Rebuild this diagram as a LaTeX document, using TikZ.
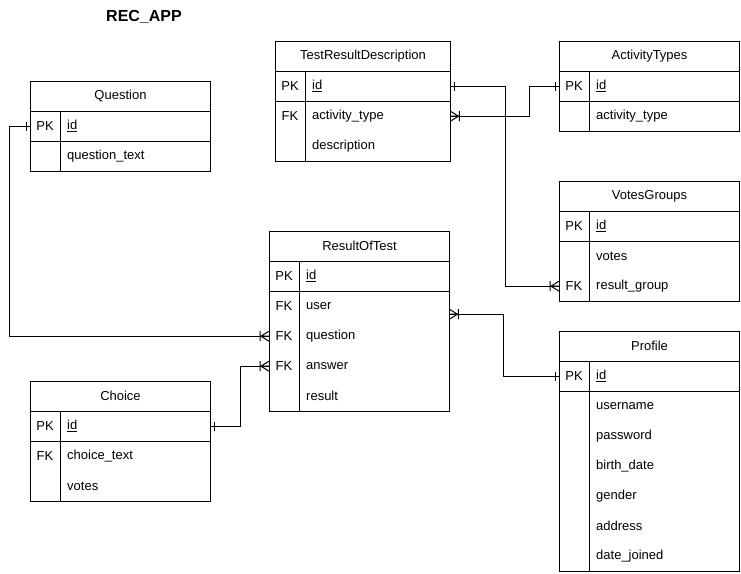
\documentclass[tikz,border=0pt]{standalone}
\usepackage{fontspec}
\setmainfont{Liberation Sans}
\usetikzlibrary{calc}
\newcommand\fs{\fontsize{13}{15}\selectfont}
\tikzset{
  ln/.style={line width=1pt},
  tbl/.style={draw, line width=1pt, inner sep=0pt, anchor=north west},
  rowbox/.style={inner sep=0pt, minimum height=30pt, anchor=north west},
  hdrt/.style={inner sep=0pt, font=\fs},
  keyt/.style={inner sep=0pt, font=\fs},
  fldt/.style={inner sep=0pt, font=\fs, anchor=west},
  conn/.style={line width=1pt, sharp corners},
  crowfoot/.pic={\draw[line width=1pt] (0,-5) -- (8,0) -- (0,5) (0,0) -- (8,0) (9,-5) -- (9,5);},
  onebar/.pic={\draw[line width=1pt] (4,-4.5) -- (4,4.5);}
}
% #1 name, #2 x, #3 y, #4 width, #5 number of field rows, #6 title
\newcommand\ertable[6]{%
  \node[tbl, minimum width=#4pt, minimum height={30pt*(#5+1)}] (#1) at (#2,#3) {};
  \node[hdrt] (#1-title) at ($(#1.north)+(0,15)$) {#6};
  \draw[ln] ($(#1.north west)+(0,30)$) -- ($(#1.north east)+(0,30)$);
  \draw[ln] ($(#1.north west)+(0,60)$) -- ($(#1.north east)+(0,60)$);
  \draw[ln] ($(#1.north west)+(30,30)$) -- ($(#1.south west)+(30,0)$);
}
% #1 table, #2 width, #3 index, #4 key, #5 field, #6 row name
\newcommand\erow[6]{%
  \node[rowbox, minimum width=#2pt] (#6) at ($(#1.north west)+(0,{30*#3})$) {};
  \node[keyt] at ($(#6.west)+(15,0)$) {#4};
  \node[fldt] at ($(#6.west)+(37,0)$) {#5};
}
\begin{document}
\begin{tikzpicture}[x=1pt, y=-1pt]
\useasboundingbox (0,0) rectangle (741,573);

\node[font=\fontsize{16}{19}\selectfont\bfseries, inner sep=0pt] (title) at (144,17) {REC\_APP};

% Question
\ertable{Q}{30}{81}{180}{2}{Question}
\erow{Q}{180}{1}{PK}{\underline{id}}{Q-id}
\erow{Q}{180}{2}{}{question\_text}{Q-text}

% TestResultDescription
\ertable{T}{275}{41}{175}{3}{TestResultDescription}
\erow{T}{175}{1}{PK}{\underline{id}}{T-id}
\erow{T}{175}{2}{FK}{activity\_type}{T-at}
\erow{T}{175}{3}{}{description}{T-desc}

% ActivityTypes
\ertable{A}{559}{41}{180}{2}{ActivityTypes}
\erow{A}{180}{1}{PK}{\underline{id}}{A-id}
\erow{A}{180}{2}{}{activity\_type}{A-at}

% VotesGroups
\ertable{V}{559}{181}{180}{3}{VotesGroups}
\erow{V}{180}{1}{PK}{\underline{id}}{V-id}
\erow{V}{180}{2}{}{votes}{V-votes}
\erow{V}{180}{3}{FK}{result\_group}{V-rg}

% ResultOfTest
\ertable{R}{269}{231}{180}{5}{ResultOfTest}
\erow{R}{180}{1}{PK}{\underline{id}}{R-id}
\erow{R}{180}{2}{FK}{user}{R-user}
\erow{R}{180}{3}{FK}{question}{R-question}
\erow{R}{180}{4}{FK}{answer}{R-answer}
\erow{R}{180}{5}{}{result}{R-result}

% Choice
\ertable{C}{30}{381}{180}{3}{Choice}
\erow{C}{180}{1}{PK}{\underline{id}}{C-id}
\erow{C}{180}{2}{FK}{choice\_text}{C-text}
\erow{C}{180}{3}{}{votes}{C-votes}

% Profile
\ertable{P}{559}{331}{180}{7}{Profile}
\erow{P}{180}{1}{PK}{\underline{id}}{P-id}
\erow{P}{180}{2}{}{username}{P-user}
\erow{P}{180}{3}{}{password}{P-pw}
\erow{P}{180}{4}{}{birth\_date}{P-bd}
\erow{P}{180}{5}{}{gender}{P-gender}
\erow{P}{180}{6}{}{address}{P-addr}
\erow{P}{180}{7}{}{date\_joined}{P-dj}

% connectors
\coordinate (R-user-pt) at ($(R-user.east)+(0,8)$);
\draw[conn] (Q-id.west) -- ++(-21,0) |- (R-question.west);
\draw[conn] (C-id.east) -- ++(30,0) |- (R-answer.west);
\draw[conn] (R-user-pt) -- ++(54,0) |- (P-id.west);
\draw[conn] (T-id.east) -- ++(55,0) |- (V-rg.west);
\draw[conn] (T-at.east) -- ++(79,0) |- (A-id.west);

% markers
\pic[rotate=180] at (Q-id.west) {onebar};
\pic[rotate=180] at (R-question.west) {crowfoot};
\pic at (C-id.east) {onebar};
\pic[rotate=180] at (R-answer.west) {crowfoot};
\pic at (R-user-pt) {crowfoot};
\pic[rotate=180] at (P-id.west) {onebar};
\pic at (T-id.east) {onebar};
\pic[rotate=180] at (V-rg.west) {crowfoot};
\pic at (T-at.east) {crowfoot};
\pic[rotate=180] at (A-id.west) {onebar};
\end{tikzpicture}
\end{document}
